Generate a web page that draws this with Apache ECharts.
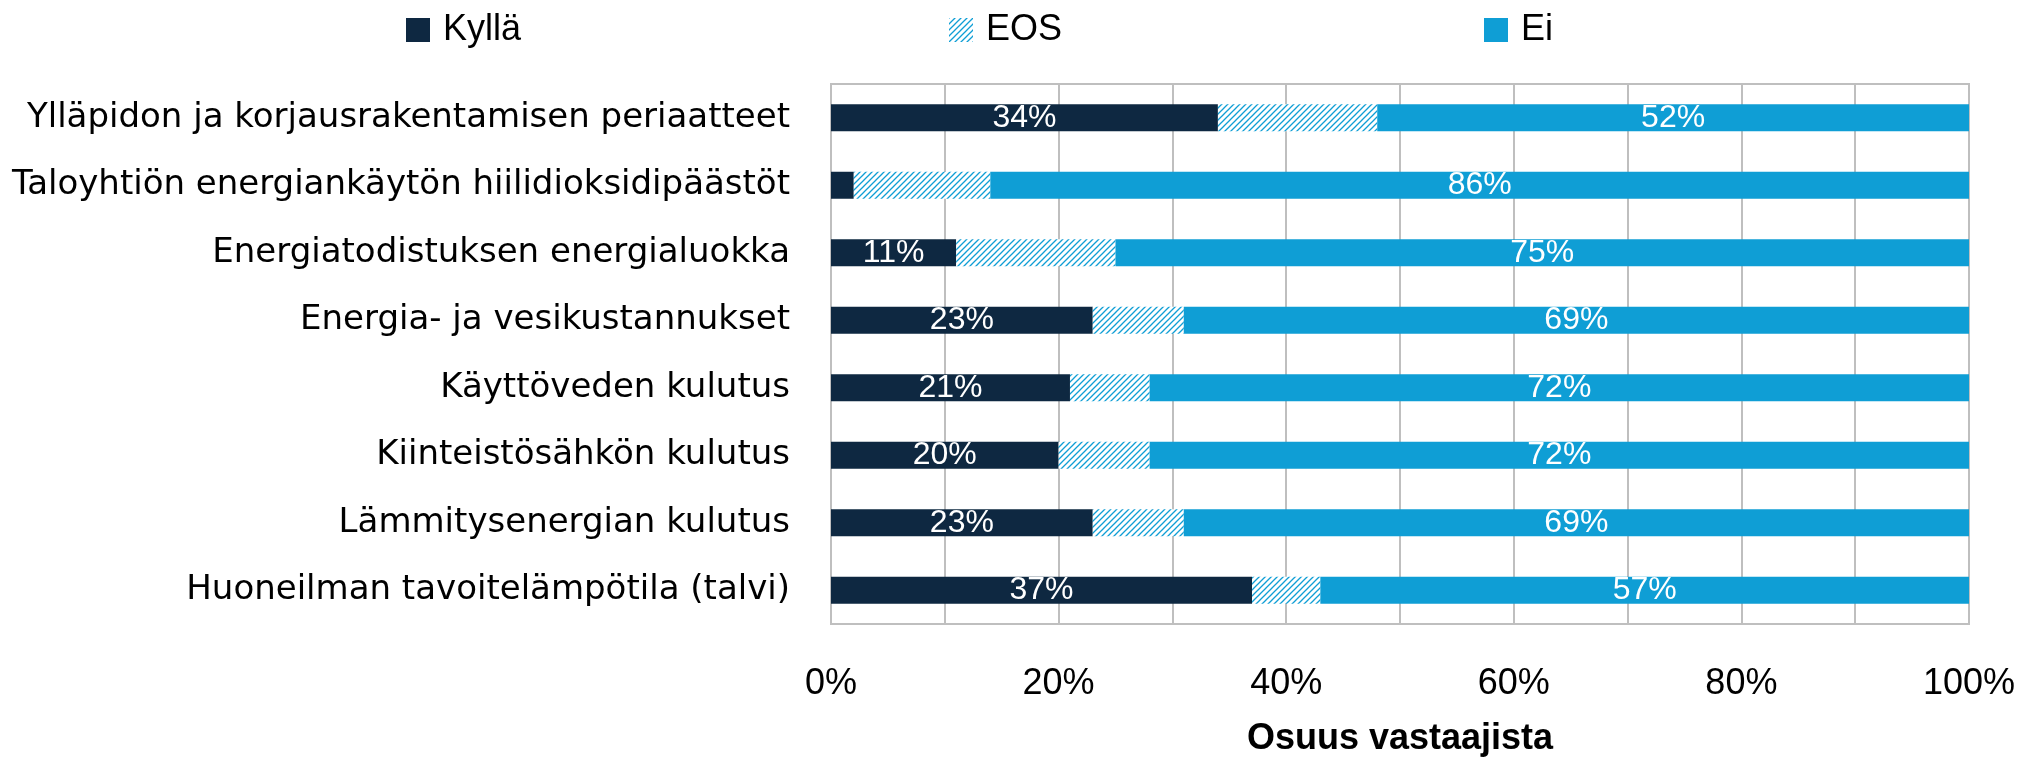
<!DOCTYPE html>
<html>
<head>
<meta charset="utf-8">
<title>Osuus vastaajista</title>
<script src="https://cdn.jsdelivr.net/npm/echarts@6.0.0/dist/echarts.min.js"></script>
<style>
  html, body { margin: 0; padding: 0; background: #fff; }
  #chart { width: 2025px; height: 758px; }
</style>
</head>
<body>
<div id="chart"></div>
<script>
// data (percent of respondents)
const categories = [
  'Ylläpidon ja korjausrakentamisen periaatteet',
  'Taloyhtiön energiankäytön hiilidioksidipäästöt',
  'Energiatodistuksen energialuokka',
  'Energia- ja vesikustannukset',
  'Käyttöveden kulutus',
  'Kiinteistösähkön kulutus',
  'Lämmitysenergian kulutus',
  'Huoneilman tavoitelämpötila (talvi)'
]
const kylla = [34, 2, 11, 23, 21, 20, 23, 37]
const eos = [14, 12, 14, 8, 7, 8, 8, 6]
const ei = [52, 86, 75, 69, 72, 72, 69, 57]

const NAVY = '#0E2841'
const BLUE = '#0F9ED5'
const GRID = '#BFBFBF'

// hatch for "EOS" (upward diagonal stripes)
const hatch = document.createElement('canvas')
hatch.width = 6
hatch.height = 6
const hctx = hatch.getContext('2d')
hctx.fillStyle = '#fff'
hctx.fillRect(0, 0, 6, 6)
hctx.strokeStyle = BLUE
hctx.lineWidth = 1.3
hctx.beginPath()
hctx.moveTo(0, 6); hctx.lineTo(6, 0)
hctx.moveTo(-3, 3); hctx.lineTo(3, -3)
hctx.moveTo(3, 9); hctx.lineTo(9, 3)
hctx.stroke()

const chart = echarts.init(document.getElementById('chart'))

const barLabel = {
  show: true,
  position: 'inside',
  color: '#fff',
  fontFamily: 'Liberation Sans',
  fontSize: 32,
  formatter: p => (p.value < 5 ? '' : p.value + '%')
}

const legendBase = {
  top: 12,
  padding: 0,
  itemWidth: 24,
  itemHeight: 24,
  icon: 'rect',
  selectedMode: false,
  textStyle: { color: '#000', fontFamily: 'Liberation Sans', fontSize: 36, padding: [0, 0, 0, 8] }
}

const option = {
  animation: false,
  backgroundColor: '#fff',
  legend: [
    Object.assign({}, legendBase, { left: 406, data: ['Kyllä'] }),
    Object.assign({}, legendBase, { left: 949, data: ['EOS'] }),
    Object.assign({}, legendBase, { left: 1484, data: ['Ei'] })
  ],
  grid: {
    left: 831,
    right: 56,
    top: 84,
    bottom: 134,
    outerBoundsMode: 'none',
    show: true,
    borderColor: GRID,
    borderWidth: 2
  },
  xAxis: {
    type: 'value',
    min: 0,
    max: 100,
    interval: 10,
    name: 'Osuus vastaajista',
    nameLocation: 'middle',
    nameGap: 97,
    nameTextStyle: { color: '#000', fontFamily: 'Liberation Sans', fontWeight: 'bold', fontSize: 36 },
    axisLine: { show: true, lineStyle: { color: GRID, width: 2 } },
    axisTick: { show: false },
    splitLine: { lineStyle: { color: GRID, width: 2 } },
    axisLabel: {
      color: '#000',
      fontFamily: 'Liberation Sans',
      fontSize: 36,
      margin: 42,
      formatter: v => (v % 20 === 0 ? v + '%' : '')
    }
  },
  yAxis: {
    type: 'category',
    inverse: true,
    data: categories,
    axisLine: { show: false },
    axisTick: { show: false },
    splitLine: { show: false },
    axisLabel: {
      color: '#000',
      fontFamily: 'DejaVu Sans',
      fontSize: 34,
      margin: 41
    }
  },
  series: [
    {
      name: 'Kyllä',
      type: 'bar',
      stack: 'total',
      barCategoryGap: '60%',
      itemStyle: { color: NAVY },
      label: barLabel,
      emphasis: { disabled: true },
      data: kylla
    },
    {
      name: 'EOS',
      type: 'bar',
      stack: 'total',
      itemStyle: { color: { image: hatch, repeat: 'repeat' } },
      emphasis: { disabled: true },
      data: eos
    },
    {
      name: 'Ei',
      type: 'bar',
      stack: 'total',
      itemStyle: { color: BLUE },
      label: barLabel,
      emphasis: { disabled: true },
      data: ei
    }
  ]
}

chart.setOption(option)
window.addEventListener('resize', () => chart.resize())
</script>
</body>
</html>
